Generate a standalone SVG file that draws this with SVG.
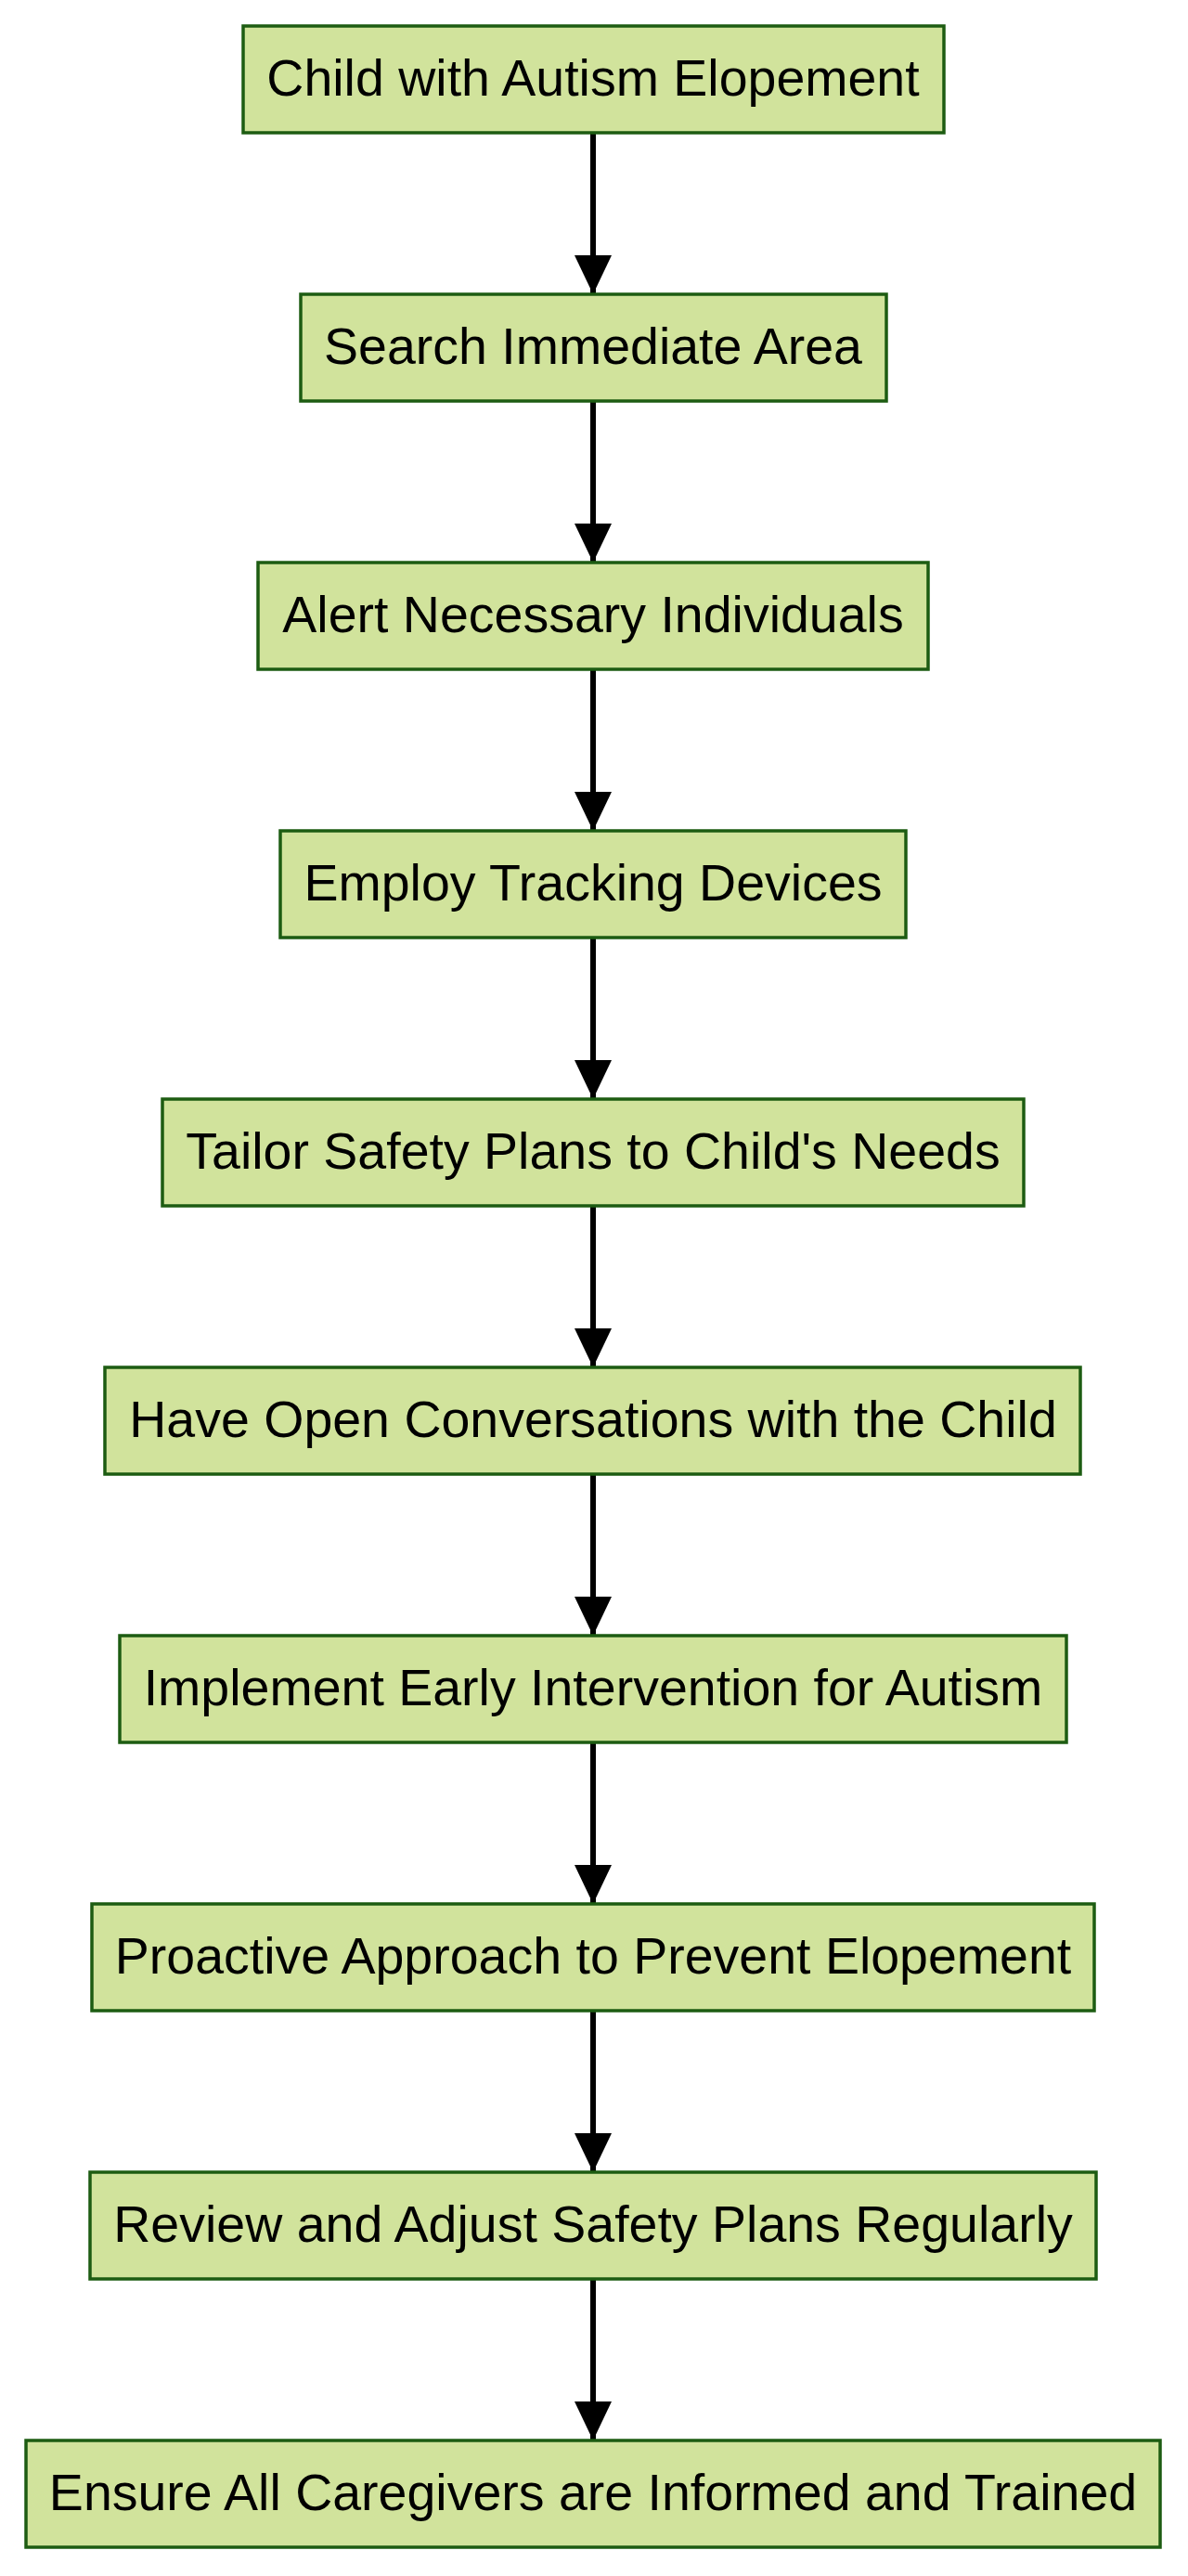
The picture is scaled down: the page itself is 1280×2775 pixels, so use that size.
<svg xmlns="http://www.w3.org/2000/svg" width="1280" height="2775" viewBox="0 0 1280 2775">
<style>
.n rect{fill:#d1e39c;stroke:#1d5c12;stroke-width:3.5}
.n text{font-family:"Liberation Sans",Arial,sans-serif;font-size:55.5px;fill:#000;text-anchor:middle;dominant-baseline:central}
.c line{stroke:#000;stroke-width:6}
</style>
<defs>
<marker id="ah" viewBox="0 0 42 40" refX="42" refY="20" markerWidth="42" markerHeight="40" orient="auto" markerUnits="userSpaceOnUse"><path d="M0,0 L42,20 L0,40 z" fill="#000"/></marker></defs>
<g class="c">
<line x1="639" y1="143" x2="639" y2="317" marker-end="url(#ah)"/>
<line x1="639" y1="432" x2="639" y2="606" marker-end="url(#ah)"/>
<line x1="639" y1="721" x2="639" y2="895" marker-end="url(#ah)"/>
<line x1="639" y1="1010" x2="639" y2="1184" marker-end="url(#ah)"/>
<line x1="639" y1="1299" x2="639" y2="1473" marker-end="url(#ah)"/>
<line x1="639" y1="1588" x2="639" y2="1762" marker-end="url(#ah)"/>
<line x1="639" y1="1877" x2="639" y2="2051" marker-end="url(#ah)"/>
<line x1="639" y1="2166" x2="639" y2="2340" marker-end="url(#ah)"/>
<line x1="639" y1="2455" x2="639" y2="2629" marker-end="url(#ah)"/>
</g>
<g id="n1" class="n"><rect x="262" y="28" width="755" height="115"/><text x="639" y="84">Child with Autism Elopement</text></g>
<g id="n2" class="n"><rect x="324" y="317" width="631" height="115"/><text x="639" y="373">Search Immediate Area</text></g>
<g id="n3" class="n"><rect x="278" y="606" width="722" height="115"/><text x="639" y="662">Alert Necessary Individuals</text></g>
<g id="n4" class="n"><rect x="302" y="895" width="674" height="115"/><text x="639" y="951">Employ Tracking Devices</text></g>
<g id="n5" class="n"><rect x="175" y="1184" width="928" height="115"/><text x="639" y="1240">Tailor Safety Plans to Child's Needs</text></g>
<g id="n6" class="n"><rect x="113" y="1473" width="1051" height="115"/><text x="639" y="1529">Have Open Conversations with the Child</text></g>
<g id="n7" class="n"><rect x="129" y="1762" width="1020" height="115"/><text x="639" y="1818">Implement Early Intervention for Autism</text></g>
<g id="n8" class="n"><rect x="99" y="2051" width="1080" height="115"/><text x="639" y="2107">Proactive Approach to Prevent Elopement</text></g>
<g id="n9" class="n"><rect x="97" y="2340" width="1084" height="115"/><text x="639" y="2396">Review and Adjust Safety Plans Regularly</text></g>
<g id="n10" class="n"><rect x="28" y="2629" width="1222" height="115"/><text x="639" y="2685">Ensure All Caregivers are Informed and Trained</text></g>
</svg>
